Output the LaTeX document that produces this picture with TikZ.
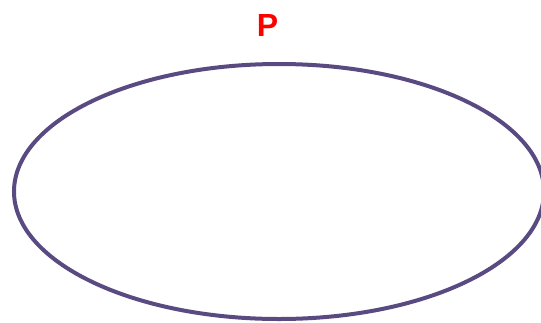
\documentclass[tikz,border=0pt]{standalone}
\usepackage{fontspec}
\setmainfont{Liberation Sans}
\usetikzlibrary{shapes.geometric}
\definecolor{ringc}{HTML}{5A4A82}
\definecolor{labc}{HTML}{FF0000}
\begin{document}
\begin{tikzpicture}[x=1pt,y=-1pt,
  ring/.style={draw=ringc,line width=4pt},
  lab/.style={text=labc,font=\bfseries\fontsize{32}{32}\selectfont,inner sep=0pt}]
\useasboundingbox (0,0) rectangle (541,322);
\node[ring,ellipse,minimum width=530pt,minimum height=255pt,inner sep=0pt] (e) at (279,191.5) {};
\node[lab,anchor=base] (p) at (267.5,36) {P};
\end{tikzpicture}
\end{document}
